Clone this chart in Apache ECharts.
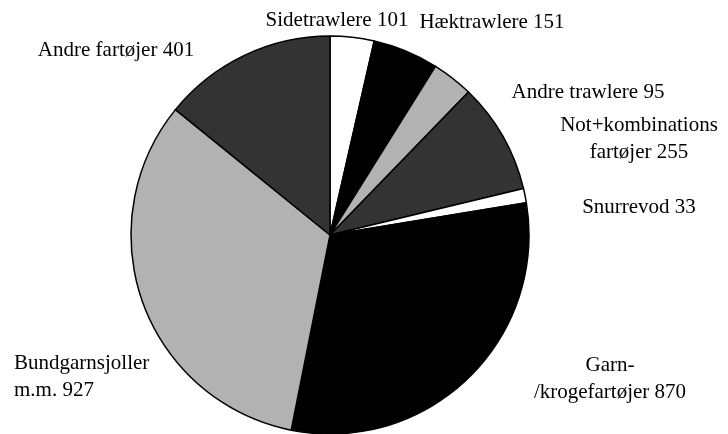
<!DOCTYPE html>
<html>
<head>
<meta charset="utf-8">
<script src="https://cdn.jsdelivr.net/npm/echarts@6/dist/echarts.min.js"></script>
<style>
  html, body { margin: 0; padding: 0; background: #fff; }
  #chart { width: 728px; height: 434px; }
</style>
</head>
<body>
<div id="chart"></div>
<script>
// fartøjsgrupper, med uret fra kl. 12
const categories = ['Sidetrawlere', 'Hæktrawlere', 'Andre trawlere', 'Not+kombinations\nfartøjer',
    'Snurrevod', 'Garn-\n/krogefartøjer', 'Bundgarnsjoller\nm.m.', 'Andre fartøjer'];
const values = [101, 151, 95, 255, 33, 870, 927, 401];
const colors = ['#ffffff', '#000000', '#b2b2b2', '#333333', '#ffffff', '#000000', '#b2b2b2', '#333333'];

// label placement (x, y, align)
const labelPos = [
    [337, 20, 'center'], [492, 22, 'center'], [588, 92, 'center'], [639, 139, 'center'],
    [639, 207, 'center'], [610, 379, 'center'], [14, 377, 'left'], [116, 50, 'center']
];

const chart = echarts.init(document.getElementById('chart'));
chart.setOption({
    animation: false,
    series: [{
        type: 'pie',
        center: [330, 235],
        radius: 199,
        startAngle: 90,
        clockwise: true,
        avoidLabelOverlap: false,
        itemStyle: { borderColor: '#000', borderWidth: 1.5 },
        label: {
            show: true,
            position: 'outside',
            fontFamily: 'Liberation Serif',
            fontSize: 21,
            lineHeight: 27,
            color: '#000',
            formatter: p => p.name + ' ' + p.value
        },
        labelLine: { show: false },
        labelLayout: params => {
            const p = labelPos[params.dataIndex];
            return { x: p[0], y: p[1], align: p[2], verticalAlign: 'middle' };
        },
        emphasis: { disabled: true },
        data: categories.map((c, i) => ({ name: c, value: values[i], itemStyle: { color: colors[i] } }))
    }]
});
</script>
</body>
</html>
